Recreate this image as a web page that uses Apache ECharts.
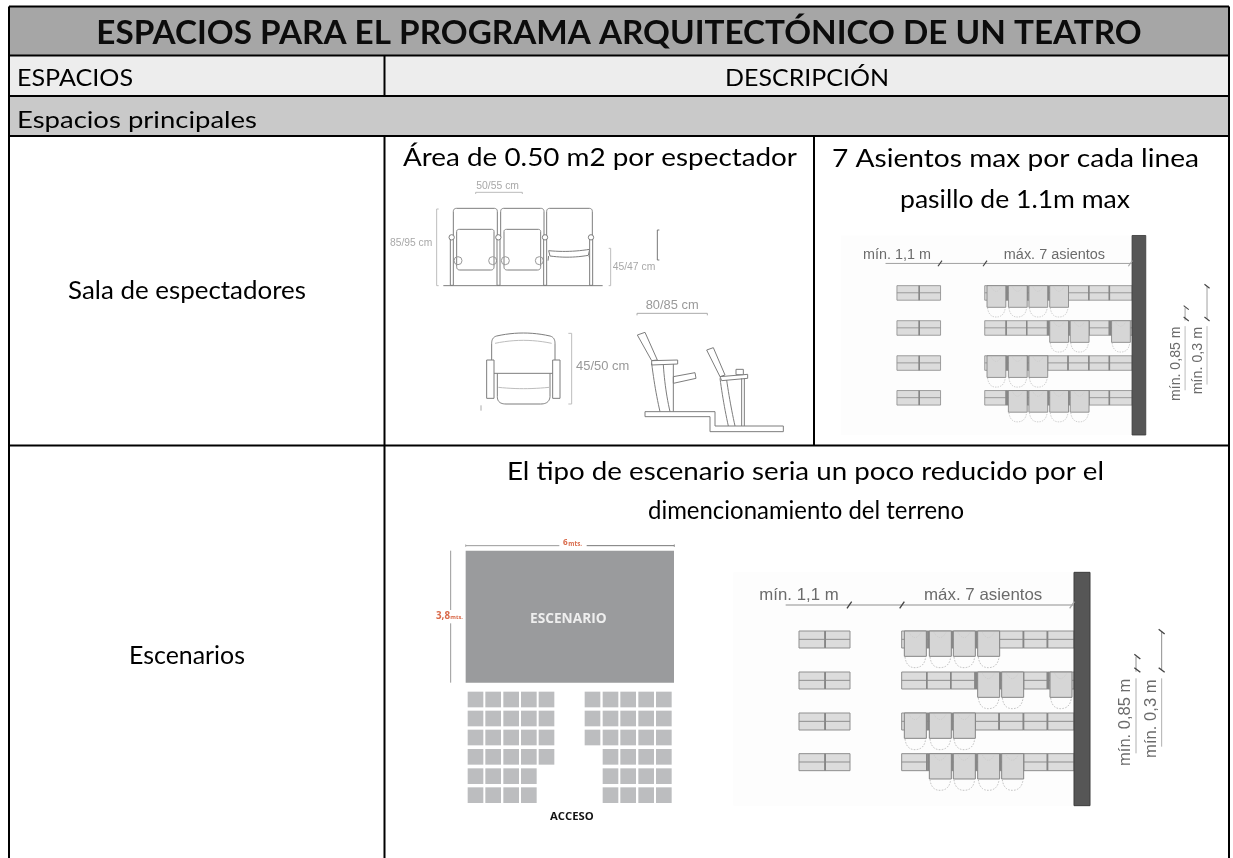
<!DOCTYPE html>
<html><head><meta charset="utf-8">
<style>html,body{margin:0;padding:0;background:#fff}#c{width:1233px;height:858px}</style>
<script src="https://cdn.jsdelivr.net/npm/echarts@6/dist/echarts.min.js"></script>
</head><body><div id="c"></div>
<script>
// ---- table content ----
const titleText = 'ESPACIOS PARA EL PROGRAMA ARQUITECTÓNICO DE UN TEATRO';
const headerTexts = ['ESPACIOS', 'DESCRIPCIÓN'];
const sectionText = 'Espacios principales';
const rowLabels = ['Sala de espectadores', 'Escenarios'];
const salaNotes = ['Área de 0.50 m2 por espectador', '7 Asientos max por cada linea', 'pasillo de 1.1m max'];
const stageNotes = ['El tipo de escenario seria un poco reducido por el', 'dimencionamiento del terreno'];
const chairLabels = ['50/55 cm', '85/95 cm', '45/47 cm', '80/85 cm', '45/50 cm'];
const aisleLabels = ['mín. 1,1 m', 'máx. 7 asientos', 'mín. 0,85 m', 'mín. 0,3 m'];
const stageLabels = ['ESCENARIO', 'ACCESO', '6', 'mts.', '3,8', 'mts.'];
// 1 = seat folded down, 0 = seat folded up
const seatRow1 = [1, 1, 1, 1, 0, 0, 0];
const seatRow2 = [0, 0, 0, 1, 1, 0, 1];
const seatRow3 = [1, 1, 1, 0, 0, 0, 0];
const seatRow4 = [0, 1, 1, 1, 1, 0, 0];
const stageSeatsLeft = [5, 5, 5, 5, 4, 4];
const stageSeatsRight = [5, 5, 5, 4, 4, 4];

// ---- helpers ----
const FONT = 'Lato, "Open Sans", sans-serif';
const measureCtx = document.createElement('canvas').getContext('2d');
function fit(str, width, weight, family) {
  measureCtx.font = (weight || 'normal') + ' 100px ' + (family || FONT);
  return 100 * width / measureCtx.measureText(str).width;
}
function txt(str, cx, cy, size, o) {
  o = o || {};
  const family = o.family || FONT, weight = o.weight || 'normal';
  return {
    type: 'text', x: cx, y: cy, rotation: o.rot || 0, z: o.z || 5, silent: true,
    scaleX: o.sx || 1,
    style: {
      text: str, fill: o.fill || '#000', font: weight + ' ' + size + 'px ' + family,
      align: o.align || 'center', verticalAlign: 'middle',
      textAlign: o.align || 'center', textVerticalAlign: 'middle'
    }
  };
}
function fitTxt(str, x0, x1, cy, o) {
  o = o || {};
  return txt(str, (x0 + x1) / 2, cy, fit(str, x1 - x0, o.weight, o.family), o);
}
// fixed font size, stretched horizontally to the span it takes in the picture
function spanTxt(str, x0, x1, cy, size) {
  const natural = size * (x1 - x0) / fit(str, x1 - x0);
  return txt(str, (x0 + x1) / 2, cy, size, { sx: (x1 - x0) / natural });
}
function rect(x, y, w, h, fill, stroke, lw) {
  return { type: 'rect', silent: true, shape: { x: x, y: y, width: w, height: h },
    style: { fill: fill || 'none', stroke: stroke || 'none', lineWidth: lw || 0 } };
}
function line(x1, y1, x2, y2, stroke, lw, dash) {
  return { type: 'line', silent: true, shape: { x1: x1, y1: y1, x2: x2, y2: y2 },
    style: { stroke: stroke, lineWidth: lw || 1, lineDash: dash || null } };
}
// small M/L/Q/Z outline turned into a polyline or polygon element
function path(d, stroke, lw, fill, dash) {
  const tok = d.match(/[MLQZ]|-?[\d.]+/g);
  const pts = [];
  let i = 0, closed = false, cur = [0, 0];
  while (i < tok.length) {
    const c = tok[i++];
    if (c === 'M' || c === 'L') {
      cur = [+tok[i], +tok[i + 1]]; i += 2; pts.push(cur);
    } else if (c === 'Q') {
      const p1 = [+tok[i], +tok[i + 1]], p2 = [+tok[i + 2], +tok[i + 3]];
      i += 4;
      for (let k = 1; k <= 12; k++) {
        const t = k / 12, u = 1 - t;
        pts.push([u * u * cur[0] + 2 * u * t * p1[0] + t * t * p2[0], u * u * cur[1] + 2 * u * t * p1[1] + t * t * p2[1]]);
      }
      cur = p2;
    } else if (c === 'Z') {
      closed = true;
    }
  }
  return { type: closed ? 'polygon' : 'polyline', silent: true, shape: { points: pts },
    style: { stroke: stroke || 'none', lineWidth: lw || 3, fill: fill || 'none', lineDash: dash || null } };
}
function circle(cx, cy, r, stroke, lw, fill) {
  return { type: 'circle', silent: true, shape: { cx: cx, cy: cy, r: r },
    style: { stroke: stroke, lineWidth: lw, fill: fill || '#fff' } };
}

// ---- aisle diagram (drawn in 1/3 px units) ----
function aisleDiagram(px, py, s) {
  const ch = [];
  const G = '#6b6b6b', L = '#8f8f8f';
  ch.push(rect(100, 67, 1022, 700, '#fdfdfd'));
  const rows = [seatRow1, seatRow2, seatRow3, seatRow4];
  const rowY = [243, 366, 489, 611];
  const seatX = [605, 680, 752, 825, 897, 970, 1042];
  function closed(x, y, w) {
    ch.push(rect(x, y, w, 51, '#dcdcdc', L, 3));
    ch.push(line(x, y + 25, x + w, y + 25, L, 3));
  }
  rowY.forEach(function (y, r) {
    closed(297, y, 78); closed(375, y, 75);
    ch.push(rect(373, y, 5, 51, '#868686'));
    seatX.forEach(function (x, i) {
      const w = i < 6 ? seatX[i + 1] - x : 1122 - x;
      closed(x, y, w);
      if (i) ch.push(rect(x - 2, y, 5, 51, '#868686'));
    });
    seatX.forEach(function (x, i) {
      if (!rows[r][i]) return;
      ch.push(rect(x + 8, y, 66, 76, '#d6d6d6', '#858585', 3));
      if (i) ch.push(rect(x + 2, y, 5, 51, '#868686'));
      ch.push(path('M' + (x + 10) + ' ' + (y + 78) + 'Q' + (x + 14) + ' ' + (y + 110) + ' ' + (x + 40) + ' ' + (y + 110) +
        'Q' + (x + 68) + ' ' + (y + 110) + ' ' + (x + 72) + ' ' + (y + 78), '#c4c4c4', 3, null, [5, 4]));
      ch.push(path('M' + (x + 22) + ' ' + (y + 4) + 'Q' + (x + 40) + ' ' + (y + 36) + ' ' + (x + 58) + ' ' + (y + 4), '#c8c8c8', 2, null, [4, 3]));
    });
  });
  ch.push(rect(1122, 67, 48, 700, '#565656', '#3c3c3c', 3));
  // dimensions
  ch.push(line(257, 165, 1122, 165, '#8f8f8f', 3));
  [[448, 165], [606, 165], [1116, 165]].forEach(function (t) {
    ch.push(line(t[0] - 7, t[1] + 10, t[0] + 7, t[1] - 10, t[0] > 1000 ? '#aaa' : '#444', 4));
  });
  ch.push(line(1308, 320, 1308, 365, '#8f8f8f', 3));
  ch.push(line(1308, 385, 1308, 610, '#b0b0b0', 3));
  ch.push(line(1385, 245, 1385, 360, '#8f8f8f', 3));
  ch.push(line(1385, 385, 1385, 590, '#b0b0b0', 3));
  [[1312, 320], [1312, 360], [1385, 245], [1385, 360]].forEach(function (t) {
    ch.push(line(t[0] - 9, t[1] - 7, t[0] + 9, t[1] + 7, '#444', 4));
  });
  const F = 'Liberation Sans, Arial, sans-serif';
  ch.push(fitTxt(aisleLabels[0], 178, 416, 137, { family: F, fill: G }));
  ch.push(fitTxt(aisleLabels[1], 672, 1027, 137, { family: F, fill: G }));
  const s2 = fit(aisleLabels[2], 262, 'normal', F);
  ch.push(txt(aisleLabels[2], 1276, 517, s2, { family: F, fill: G, rot: Math.PI / 2 }));
  const s3 = fit(aisleLabels[3], 236, 'normal', F);
  ch.push(txt(aisleLabels[3], 1355, 506, s3, { family: F, fill: G, rot: Math.PI / 2 }));
  return { type: 'group', x: px, y: py, scaleX: s, scaleY: s, children: ch };
}

// ---- chairs diagram (1/3 px units, origin 380,130) ----
function chairsDiagram() {
  const ch = [];
  const S = '#7d7d7d', D = '#bdbdbd', T = '#a8a8a8';
  const F = 'Liberation Sans, Arial, sans-serif';
  [[220, 132], [362, 130], [500, 137]].forEach(function (c, i) {
    const x = c[0], w = c[1];
    ch.push(path('M' + x + ' 320L' + x + ' 245Q' + x + ' 235 ' + (x + 10) + ' 235L' + (x + w - 10) + ' 235Q' + (x + w) + ' 235 ' + (x + w) + ' 245L' + (x + w) + ' 320', S, 3));
    if (i < 2) {
      ch.push(path('M' + (x + 10) + ' 410L' + (x + 10) + ' 305Q' + (x + 10) + ' 298 ' + (x + 18) + ' 298L' + (x + w - 18) + ' 298Q' + (x + w - 10) + ' 298 ' + (x + w - 10) + ' 305L' + (x + w - 10) + ' 410Q' + (x + w - 10) + ' 420 ' + (x + w - 20) + ' 420L' + (x + 20) + ' 420Q' + (x + 10) + ' 420 ' + (x + 10) + ' 410Z', S, 3));
      ch.push(circle(x + 14, 392, 12, '#999', 3, 'none'));
      ch.push(circle(x + w - 14, 392, 12, '#999', 3, 'none'));
    } else {
      ch.push(path('M' + (x + 6) + ' 362Q' + (x + 68) + ' 368 ' + (x + w - 8) + ' 358L' + (x + w - 12) + ' 376Q' + (x + 68) + ' 386 ' + (x + 10) + ' 378Z', S, 3));
      ch.push(line(x + 6, 378, x + 4, 392, S, 3));
      ch.push(line(x + w - 10, 378, x + w - 6, 392, S, 3));
    }
  });
  [215, 355, 495, 633].forEach(function (x) {
    ch.push(rect(x - 4, 322, 9, 144, '#fff', S, 3));
    ch.push(circle(x, 322, 8, S, 3));
  });
  ch.push(line(190, 467, 668, 467, S, 3));
  // dimension brackets
  ch.push(path('M176 237L170 237L170 467L176 467', D, 3));
  ch.push(path('M287 192L287 187L427 187L427 192', '#999', 2));
  ch.push(path('M686 355L692 355L692 467L686 467', D, 3));
  ch.push(path('M838 300L832 300L832 390L838 390', '#777', 3));
  ch.push(path('M771 556L771 550L982 550L982 556', '#aaa', 3));
  ch.push(path('M565 610L575 610L575 822L565 822', D, 3));
  ch.push(line(303, 826, 303, 842, '#aaa', 3));
  // seat seen from above
  ch.push(path('M335 690L335 640Q335 622 350 618Q430 600 510 618Q525 622 525 640L525 690', S, 3));
  ch.push(path('M345 640Q430 622 515 640', D, 3));
  ch.push(rect(320, 690, 22, 115, '#fff', S, 3));
  ch.push(rect(518, 690, 22, 115, '#fff', S, 3));
  ch.push(line(342, 730, 518, 730, S, 3));
  ch.push(path('M352 730L352 800Q352 822 378 822L482 822Q508 822 510 800L510 730', S, 3));
  ch.push(path('M355 772Q430 780 507 772', D, 3));
  // side view
  ch.push(path('M772 615L795 607L832 690L815 692Z', S, 3));
  ch.push(path('M815 692L893 690L893 702L815 705Z', S, 3));
  ch.push(path('M815 700Q825 780 840 845', S, 3));
  ch.push(path('M850 705Q855 780 870 845', S, 3));
  ch.push(line(880, 702, 880, 845, S, 3));
  ch.push(path('M880 740L945 728L948 745L880 760Z', S, 3));
  ch.push(path('M795 845L1005 845L1005 888L1210 888L1210 905L990 905L990 860L795 860Z', S, 3));
  ch.push(path('M980 660L1000 653L1035 735L1020 740Z', S, 3));
  ch.push(path('M1020 740L1103 733L1103 745L1025 752Z', S, 3));
  ch.push(rect(1068, 718, 22, 16, '#fff', S, 3));
  ch.push(path('M1020 745Q1030 820 1045 888', S, 3));
  ch.push(path('M1040 750Q1050 820 1065 888', S, 3));
  ch.push(line(1085, 745, 1085, 888, S, 3));
  ch.push(line(1093, 745, 1093, 888, S, 3));
  // labels
  ch.push(fitTxt(chairLabels[0], 289, 417, 167, { family: F, fill: T }));
  ch.push(fitTxt(chairLabels[1], 30, 157, 340, { family: F, fill: T }));
  ch.push(fitTxt(chairLabels[2], 698, 826, 412, { family: F, fill: T }));
  ch.push(fitTxt(chairLabels[3], 797, 956, 525, { family: F, fill: '#999' }));
  ch.push(fitTxt(chairLabels[4], 588, 748, 710, { family: F, fill: '#999' }));
  return { type: 'group', x: 380, y: 130, scaleX: 1 / 3, scaleY: 1 / 3, children: ch };
}

// ---- stage diagram (1/3 px units, origin 400,530) ----
function stageDiagram() {
  const ch = [];
  const OR = '#d96a4a';
  ch.push(rect(197, 62, 625, 396, '#9a9b9d'));
  ch.push(line(197, 47, 478, 47, '#999', 3));
  ch.push(line(560, 47, 823, 47, '#777', 3));
  ch.push(line(197, 43, 197, 51, '#999', 2));
  ch.push(line(823, 43, 823, 51, '#777', 2));
  ch.push(line(152, 62, 152, 240, '#999', 3));
  ch.push(line(152, 280, 152, 458, '#999', 3));
  ch.push(fitTxt(stageLabels[0], 390, 620, 268, { weight: 'bold', fill: '#eee', family: '"Open Sans", sans-serif' }));
  ch.push(fitTxt(stageLabels[1], 450, 581, 860, { weight: 'bold', fill: '#111', family: '"Open Sans", sans-serif' }));
  ch.push(fitTxt(stageLabels[2], 489, 503, 38, { weight: 'bold', fill: OR, family: '"Open Sans", sans-serif' }));
  ch.push(fitTxt(stageLabels[3], 505, 546, 42, { weight: 'bold', fill: OR, family: '"Open Sans", sans-serif' }));
  ch.push(fitTxt(stageLabels[4], 108, 150, 258, { weight: 'bold', fill: OR, family: '"Open Sans", sans-serif' }));
  ch.push(fitTxt(stageLabels[5], 151, 189, 263, { weight: 'bold', fill: OR, family: '"Open Sans", sans-serif' }));
  const yy = [485, 542, 599, 657, 715, 772];
  const lx = [203, 256, 310, 363, 416];
  const rx = [554, 608, 661, 715, 768];
  yy.forEach(function (y, r) {
    for (let i = 0; i < stageSeatsLeft[r]; i++) ch.push(rect(lx[i], y, 47, 47, '#bcbdbf'));
    for (let i = 5 - stageSeatsRight[r]; i < 5; i++) ch.push(rect(rx[i], y, 47, 47, '#bcbdbf'));
  });
  return { type: 'group', x: 400, y: 530, scaleX: 1 / 3, scaleY: 1 / 3, children: ch };
}

// ---- table ----
const L = 9, R = 1229, Cdiv = 384.5, C2 = 814, Y0 = 6.5, Y1 = 55.5, Y2 = 96, Y3 = 136, Y4 = 445.5, YB = 858;
const els = [];
els.push(rect(L, Y0, R - L, Y1 - Y0, '#a6a6a6'));
els.push(rect(L, Y1, R - L, Y2 - Y1, '#ededed'));
els.push(rect(L, Y2, R - L, Y3 - Y2, '#c9c9c9'));
[[L, Y0, R, Y0], [L, Y1, R, Y1], [L, Y2, R, Y2], [L, Y3, R, Y3], [L, Y4, R, Y4],
 [L, Y0, L, YB], [R, Y0, R, YB], [Cdiv, Y1, Cdiv, Y2], [Cdiv, Y3, Cdiv, YB], [C2, Y3, C2, Y4]
].forEach(function (a) {
  const e = line(a[0], a[1], a[2], a[3], '#000', 2);
  e.z = 4;
  els.push(e);
});
els.push(chairsDiagram());
els.push(aisleDiagram(812.3, 216.4, 0.855 / 3 * 1));
els.push(aisleDiagram(700, 550, 1 / 3));
els.push(stageDiagram());
els.push(fitTxt(titleText, 96, 1142, 33, { weight: 'bold', fill: '#0c0c0c' }));
els.push(spanTxt(headerTexts[0], 17, 133, 78, 24));
els.push(spanTxt(headerTexts[1], 725, 889, 78, 24));
els.push(spanTxt(sectionText, 17, 257, 120, 24));
els.push(spanTxt(rowLabels[0], 68, 306, 291, 25));
els.push(spanTxt(rowLabels[1], 129, 245, 656, 25));
els.push(spanTxt(salaNotes[0], 403, 797, 158, 25));
els.push(spanTxt(salaNotes[1], 832, 1199, 159, 25));
els.push(spanTxt(salaNotes[2], 900, 1130, 200, 25));
els.push(spanTxt(stageNotes[0], 507, 1104, 472, 25));
els.push(spanTxt(stageNotes[1], 648, 964, 511, 25));

const chart = echarts.init(document.getElementById('c'), null, { renderer: 'canvas', width: 1233, height: 858 });
chart.setOption({ backgroundColor: '#fff', animation: false, graphic: { elements: els } });
</script></body></html>
